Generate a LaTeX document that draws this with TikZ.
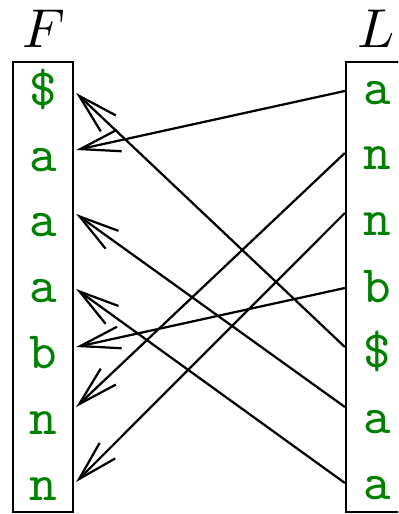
\documentclass[tikz,border=0pt]{standalone}
\usetikzlibrary{arrows.meta,calc}
\definecolor{tgreen}{RGB}{0,128,0}
\begin{document}
\begin{tikzpicture}[x=0.2pt,y=-0.2pt,line width=0.45pt,
  fcell/.style={anchor=base,inner sep=0pt,minimum width=64*0.2pt,text=tgreen,font=\fontsize{10.5}{12}\ttfamily},
  lcell/.style={anchor=base,inner sep=0pt,minimum width=62*0.2pt,text=tgreen,font=\fontsize{10.5}{12}\ttfamily},
  arr/.style={-{Straight Barb[length=8pt,width=4.4pt]}},
  title/.style={anchor=base,inner sep=0pt,font=\fontsize{10.5}{12}\selectfont}]
\useasboundingbox (0,0) rectangle (398,514);
\clip (0,0) rectangle (398,514);
% titles
\node[title] (tF) at (44,48) {$F$};
\node[title] (tL) at (376,48) {$L$};
% boxes
\draw (13,62) rectangle (73,512);
\draw (346,62) rectangle (410,512);
% F column
\node[fcell] (F1) at (43,106) {\$};
\node[fcell] (F2) at (43,172) {a};
\node[fcell] (F3) at (43,237) {a};
\node[fcell] (F4) at (43,303) {a};
\node[fcell] (F5) at (43,368) {b};
\node[fcell] (F6) at (43,434) {n};
\node[fcell] (F7) at (43,500) {n};
% L column
\node[lcell] (L1) at (377,105) {a};
\node[lcell] (L2) at (377,170) {n};
\node[lcell] (L3) at (377,236) {n};
\node[lcell] (L4) at (377,303) {b};
\node[lcell] (L5) at (377,367) {\$};
\node[lcell] (L6) at (377,433) {a};
\node[lcell] (L7) at (377,499) {a};
% connectors
\draw[arr] ($(L1.base west)+(0,-14)$) -- ($(F2.base east)+(0,-22)$);
\draw[arr] ($(L2.base west)+(0,-17)$) -- ($(F6.base east)+(0,-27)$);
\draw[arr] ($(L3.base west)+(0,-23)$) -- ($(F7.base east)+(0,-18)$);
\draw[arr] ($(L4.base west)+(0,-15)$) -- ($(F5.base east)+(0,-21)$);
\draw[arr] ($(L5.base west)+(0,-20)$) -- ($(F1.base east)+(0,-13)$);
\draw[arr] ($(L6.base west)+(0,-26)$) -- ($(F3.base east)+(0,-23)$);
\draw[arr] ($(L7.base west)+(0,-16)$) -- ($(F4.base east)+(0,-14)$);
\end{tikzpicture}
\end{document}
